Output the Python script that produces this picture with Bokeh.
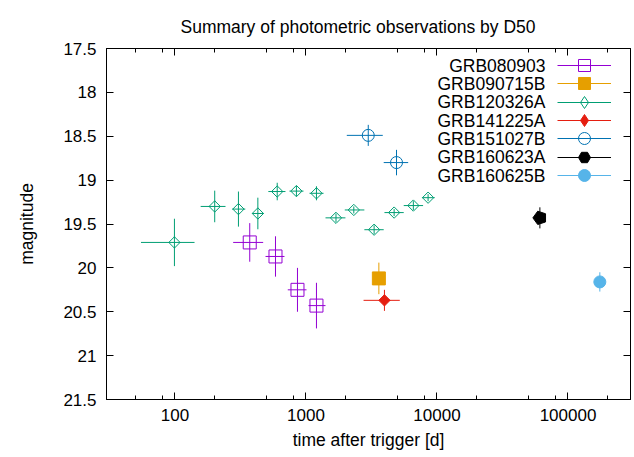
import numpy as np
from bokeh.plotting import figure
from bokeh.models import (Range1d, FixedTicker, LinearAxis, LogAxis, Legend, LegendItem,
                          Label, CustomJSTickFormatter)
from bokeh.embed import file_html
from bokeh.resources import INLINE

# ---------------- data ----------------
names = ["GRB080903", "GRB090715B", "GRB120326A", "GRB141225A",
         "GRB151027B", "GRB160623A", "GRB160625B"]

t_080903 = [372, 585, 861, 1202]
tlo_080903 = [278, 491, 726, 1045]
thi_080903 = [471, 685, 1009, 1409]
mag_080903 = [19.71, 19.87, 20.25, 20.43]
err_080903 = [0.22, 0.23, 0.25, 0.26]

t_090715B = [3600]
mag_090715B = [20.12]
err_090715B = [0.18]

t_120326A = [99, 201, 305, 429, 603, 845, 1202, 1694, 2317, 3311, 4707, 6600, 8550]
tlo_120326A = [55, 157, 273, 388, 516, 748, 1064, 1409, 1977, 2790, 3972, 5572, 7690]
thi_120326A = [141, 243, 344, 476, 697, 957, 1361, 2000, 2790, 3920, 5572, 7830, 9600]
mag_120326A = [19.71, 19.30, 19.33, 19.38, 19.13, 19.125, 19.15, 19.43, 19.34, 19.565, 19.37, 19.29, 19.20]
err_120326A = [0.27, 0.18, 0.20, 0.18, 0.10, 0.06, 0.08, 0.05, 0.04, 0.05, 0.04, 0.05, 0.04]

t_141225A = [3970]
tlo_141225A = [2750]
thi_141225A = [5200]
mag_141225A = [20.37]
err_141225A = [0.12]

t_151027B = [2987, 4908]
tlo_151027B = [2048, 3920]
thi_151027B = [3855, 6026]
mag_151027B = [18.49, 18.80]
err_151027B = [0.12, 0.145]

t_160623A = [61000]
mag_160623A = [19.43]
err_160623A = [0.12]

t_160625B = [175000]
mag_160625B = [20.16]
err_160625B = [0.11]

xtick_values = [100, 1000, 10000, 100000]
xminor_values = [50, 80, 200, 500, 800, 2000, 5000, 8000, 20000, 50000, 80000, 200000]
ytick_values = [17.5, 18, 18.5, 19, 19.5, 20, 20.5, 21, 21.5]

# ---------------- styling ----------------
FONT = "Liberation Sans"
FS = "17.5px"
TFS = "17px"
C_PURPLE = "#9400d3"
C_ORANGE = "#e69f00"
C_GREEN = "#009e73"
C_RED = "#e51e10"
C_BLUE = "#0072b2"
C_BLACK = "#000000"
C_LBLUE = "#56b4e9"

X0, X1 = 30, 300000
Y0, Y1 = 21.5, 17.5
FL, FR, FT, FB = 106, 630, 48, 399  # frame box in pixels

p = figure(width=634, height=457, x_axis_type="log",
           x_range=Range1d(X0, X1), y_range=Range1d(Y0, Y1),
           output_backend="svg", toolbar_location=None,
           min_border_left=FL, min_border_right=634 - FR,
           min_border_top=FT, min_border_bottom=457 - FB,
           title="Summary of photometric observations by D50")
p.title.text_font = FONT
p.title.text_font_size = FS
p.title.text_font_style = "normal"
p.title.align = "left"
p.title.offset = 74
p.title.standoff = 24
p.title.text_color = "black"
p.xgrid.visible = False
p.ygrid.visible = False
p.outline_line_color = "black"
p.outline_line_width = 1
p.background_fill_color = "white"
p.border_fill_color = "white"

xticker = FixedTicker(ticks=xtick_values, minor_ticks=xminor_values)
yticker = FixedTicker(ticks=ytick_values, minor_ticks=[])
fmt = CustomJSTickFormatter(code="return String(tick)")


def style_axis(ax, show_labels):
    ax.axis_line_color = "black"
    ax.major_tick_line_color = "black"
    ax.minor_tick_line_color = "black"
    ax.major_tick_in = 7
    ax.major_tick_out = 0
    ax.minor_tick_in = 4
    ax.minor_tick_out = 0
    ax.major_label_text_font = FONT
    ax.major_label_text_font_size = TFS
    ax.major_label_text_color = "black"
    ax.axis_label_text_font = FONT
    ax.axis_label_text_font_size = FS
    ax.axis_label_text_font_style = "normal"
    ax.axis_label_text_color = "black"
    if not show_labels:
        ax.major_label_text_color = None
        ax.major_label_text_font_size = "0px"
        ax.major_label_standoff = 0


xax = p.xaxis[0]
xax.ticker = xticker
xax.formatter = fmt
xax.axis_label = "time after trigger [d]"
style_axis(xax, True)
xax.major_label_standoff = 9
xax.axis_label_standoff = 6

yax = p.yaxis[0]
yax.ticker = yticker
yax.formatter = fmt
yax.axis_label = "magnitude"
style_axis(yax, True)
yax.major_label_standoff = 10
yax.axis_label_standoff = 23

top = LogAxis(ticker=xticker, formatter=fmt)
style_axis(top, False)
p.add_layout(top, "above")
right = LinearAxis(ticker=yticker, formatter=fmt)
style_axis(right, False)
p.add_layout(right, "right")


def add_series(t, mag, err, color, marker, size, filled, angle=0.0, tlo=None, thi=None,
               legend_marker=None):
    t = np.asarray(t, float)
    mag = np.asarray(mag, float)
    err = np.asarray(err, float)
    rends = []
    if tlo is not None:
        rx = p.segment(x0=tlo, y0=mag, x1=thi, y1=mag, line_color=color, line_width=1)
        rends.append(rx)
    ry = p.segment(x0=t, y0=mag - err, x1=t, y1=mag + err, line_color=color, line_width=1)
    if tlo is None:
        rends.append(ry)
    fc = color if filled else None
    if marker is not None:
        rm = p.scatter(x=t, y=mag, marker=marker, size=size, angle=angle,
                       line_color=color, line_width=1, fill_color=fc)
        if legend_marker is None:
            rends.append(rm)
    if legend_marker is not None:
        # marker used only for the key (the key draws markers unrotated)
        rl = p.scatter(x=t, y=mag, marker=legend_marker, size=size,
                       line_color=color, line_width=1, fill_color=fc, visible=False)
        rends.append(rl)
    return rends


items = []
items.append(add_series(t_080903, mag_080903, err_080903, C_PURPLE, "square", 13, False,
                        tlo=tlo_080903, thi=thi_080903))
items.append(add_series(t_090715B, mag_090715B, err_090715B, C_ORANGE, "square", 13, True))
items.append(add_series(t_120326A, mag_120326A, err_120326A, C_GREEN, "square", 8, False,
                        angle=np.pi / 4, tlo=tlo_120326A, thi=thi_120326A,
                        legend_marker="diamond"))
items.append(add_series(t_141225A, mag_141225A, err_141225A, C_RED, "square", 8, True,
                        angle=np.pi / 4, tlo=tlo_141225A, thi=thi_141225A,
                        legend_marker="diamond"))
items.append(add_series(t_151027B, mag_151027B, err_151027B, C_BLUE, "circle", 12, False,
                        tlo=tlo_151027B, thi=thi_151027B))

# pentagon for GRB160623A
drawn = False
try:
    from bokeh.models import Ngon  # noqa: F401
    p.ngon(x=t_160623A, y=mag_160623A, radius=7, radius_units="screen", n=5,
           angle=np.pi / 2, fill_color=C_BLACK, line_color=C_BLACK)
    drawn = True
except Exception:
    drawn = False
if drawn:
    items.append(add_series(t_160623A, mag_160623A, err_160623A, C_BLACK, None, 12, True,
                            legend_marker="hex"))
else:
    items.append(add_series(t_160623A, mag_160623A, err_160623A, C_BLACK, "hex", 12, True))
items.append(add_series(t_160625B, mag_160625B, err_160625B, C_LBLUE, "circle", 12, True))

# key: one single-entry legend per series so the rows sit exactly where the reference has them
first_center = 65.0
row_pitch = 18.35
GH = 30
for i, (nm, r) in enumerate(zip(names, items)):
    c = first_center + i * row_pitch
    lg = Legend(items=[LegendItem(label=nm, renderers=r)],
                glyph_width=54, glyph_height=GH, label_height=GH, label_width=0,
                label_standoff=0, padding=0, margin=0, spacing=0,
                border_line_color=None, background_fill_alpha=0,
                label_text_color=None, label_text_font_size="1px",
                location=(556.7 - FL, FB - (c + GH / 2)))
    p.add_layout(lg)


def px_to_x(px):
    return 10 ** (np.log10(X0) + (px - FL) / (FR - FL) * (np.log10(X1) - np.log10(X0)))


def py_to_y(py):
    return Y1 + (py - FT) / (FB - FT) * (Y0 - Y1)


for i, nm in enumerate(names):
    p.add_layout(Label(x=px_to_x(545), y=py_to_y(first_center + i * row_pitch), text=nm,
                       text_align="right", text_baseline="middle",
                       text_font=FONT, text_font_size=FS, text_color="black"))

open("out.html", "w").write(file_html(p, INLINE))
